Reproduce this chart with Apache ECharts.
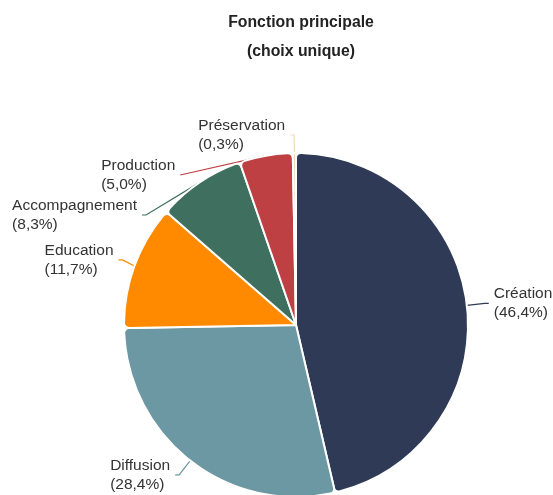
<!DOCTYPE html>
<html><head><meta charset="utf-8">
<script src="https://cdn.jsdelivr.net/npm/echarts@6/dist/echarts.min.js"></script>
<style>html,body{margin:0;padding:0;background:#fff}#c{width:553px;height:495px}</style>
</head><body><div id="c"></div>
<script>
const categories = ['Création', 'Diffusion', 'Education', 'Accompagnement', 'Production', 'Préservation'];
const values = [46.4, 28.4, 11.7, 8.3, 5.0, 0.3];
const colors = ['#2f3b56', '#6b98a2', '#ff8a00', '#3f6f5f', '#bf4042', '#f0d8bf'];

const chart = echarts.init(document.getElementById('c'));
chart.setOption({
  animation: false,
  title: {
    text: 'Fonction principale\n(choix unique)',
    left: 296, textAlign: 'center', top: 3,
    textStyle: { fontFamily: 'Liberation Sans, Arial', fontSize: 15.8, fontWeight: 'bold', color: '#222', lineHeight: 29 }
  },
  series: [{
    type: 'pie',
    center: [296, 325],
    radius: 172,
    startAngle: 90,
    clockwise: true,
    itemStyle: { borderColor: '#fff', borderWidth: 2, borderRadius: 5 },
    label: {
      show: true,
      overflow: 'none',
      fontFamily: 'Liberation Sans, Arial',
      fontSize: 15.5,
      color: '#333',
      lineHeight: 19,
      formatter: p => '{a|' + p.name + '}\n{a|(' + p.value.toFixed(1).replace('.', ',') + '%)}',
      rich: { a: { align: 'left', fontSize: 15.5, lineHeight: 19, color: '#333', fontFamily: 'Liberation Sans, Arial' } }
    },
    labelLine: { show: true, length: 18, length2: 4, lineStyle: { width: 1.2 } },
    data: categories.map((c, i) => ({ name: c, value: values[i], itemStyle: { color: colors[i] }, labelLine: { lineStyle: { color: colors[i] } } }))
  }]
});
</script></body></html>
